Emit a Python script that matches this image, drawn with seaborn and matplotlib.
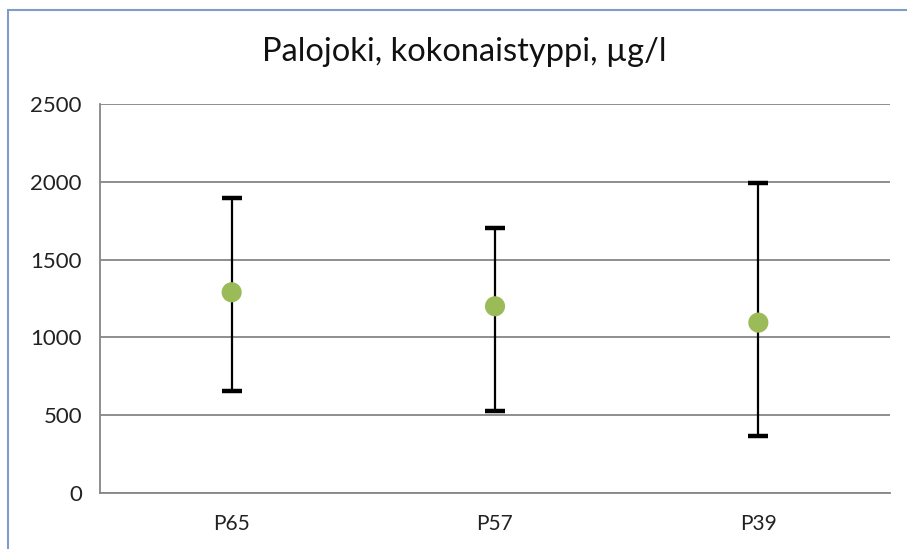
import numpy as np
import matplotlib.pyplot as plt
import seaborn as sns
from matplotlib.patches import Rectangle

sns.set_style("white")
plt.rcParams['font.family'] = ['Lato', 'DejaVu Sans']

# data
sites = ["P65", "P57", "P39"]
mean_vals = [1290, 1200, 1095]
min_vals = [655, 530, 365]
max_vals = [1895, 1700, 1995]

grid_col = "#868686"

fig = plt.figure(figsize=(9.07, 5.49), dpi=100)
ax = fig.add_axes([100 / 907, 56 / 549, 790 / 907, 389 / 549])

# chart border like excel
fig.patches.append(Rectangle((8 / 907, -0.1), 1.2, (539 / 549) + 0.1,
                             transform=fig.transFigure, fill=False,
                             edgecolor="#7F9DC9", linewidth=1.5))

lower = np.array(mean_vals) - np.array(min_vals)
upper = np.array(max_vals) - np.array(mean_vals)
ax.errorbar(sites, mean_vals, yerr=[lower, upper], fmt="none",
            ecolor="black", elinewidth=1.6, capsize=7.5, capthick=3.2, zorder=3)
sns.scatterplot(x=sites, y=mean_vals, ax=ax, color="#9BBB59", s=210,
                edgecolor="none", zorder=4)

ax.set_xlim(-0.5, 2.5)
ax.set_ylim(0, 2500)
ax.set_yticks(np.arange(0, 2501, 500))
ax.yaxis.grid(True, color=grid_col, linewidth=1.3)
ax.set_axisbelow(True)

for s in ["top", "right"]:
    ax.spines[s].set_visible(False)
for s in ["left", "bottom"]:
    ax.spines[s].set_color(grid_col)
    ax.spines[s].set_linewidth(1.3)

ax.set_xticks([-0.5, 0.5, 1.5, 2.5], minor=True)
ax.tick_params(axis="x", which="major", length=0, pad=15, labelsize=15,
               labelcolor="#222222")
ax.tick_params(axis="x", which="minor", length=6, color=grid_col, width=1.3)
ax.tick_params(axis="y", length=6, color=grid_col, width=1.3, pad=7,
               labelsize=16, labelcolor="#222222")

fig.text(464 / 907, 1 - 52 / 549, "Palojoki, kokonaistyppi, µg/l",
         ha="center", va="center", fontsize=23.5, color="#111111")

fig.savefig("out.png", dpi=100)
